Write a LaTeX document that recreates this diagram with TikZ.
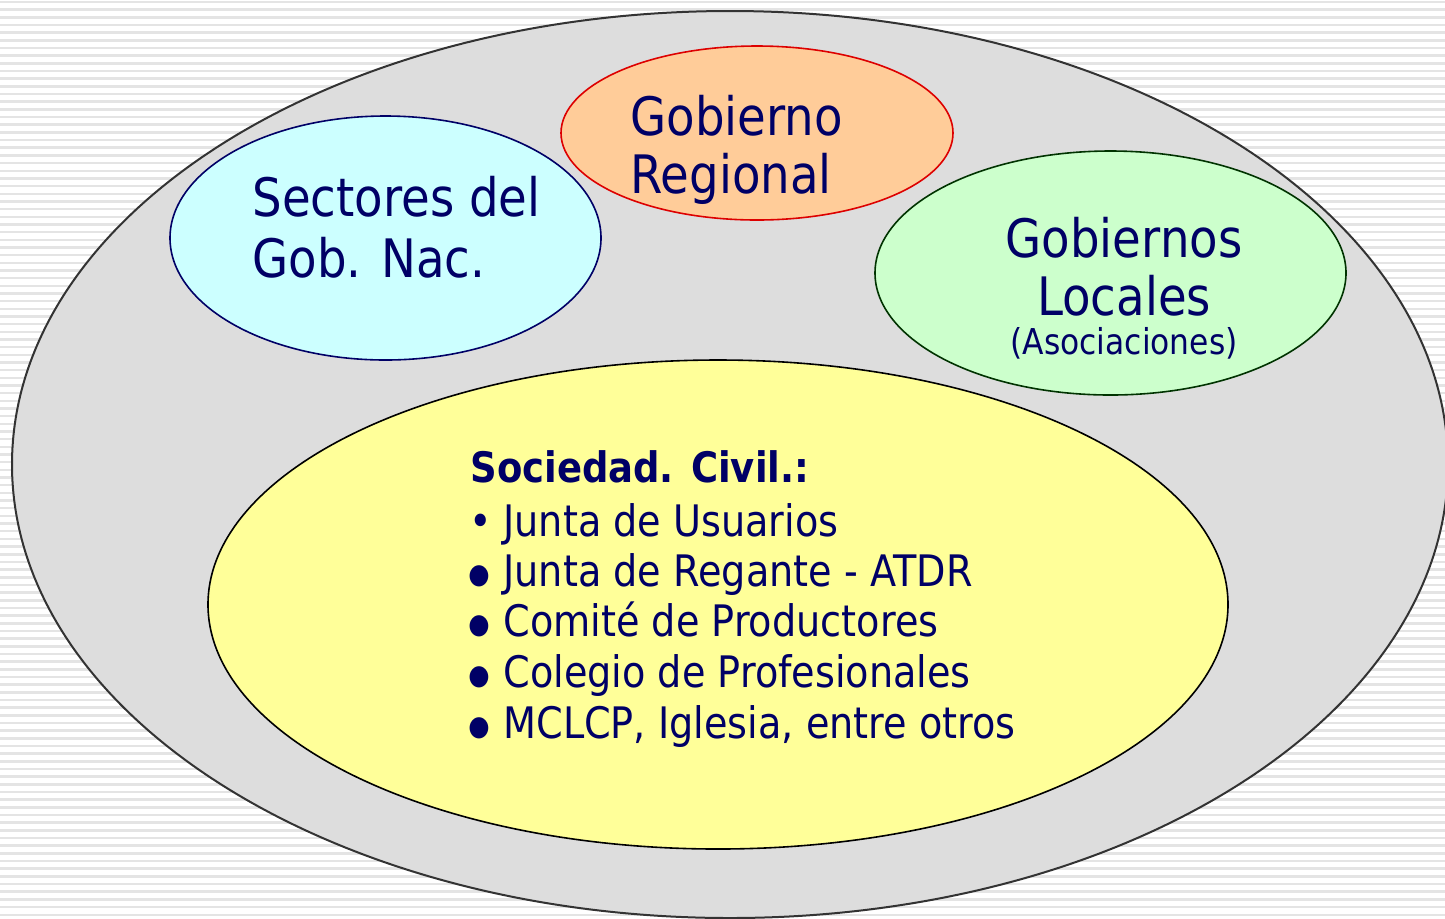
\documentclass[tikz,border=0pt]{standalone}
\usepackage{fontspec}
\setmainfont[FakeStretch=0.88]{DejaVu Sans}
\usepackage{graphicx}
\usetikzlibrary{shapes.geometric}
\definecolor{navytext}{HTML}{000066}
\definecolor{bggray}{HTML}{DDDDDD}
\definecolor{stripegray}{HTML}{E4E4E4}
\definecolor{outline}{HTML}{333333}
\definecolor{cyanfill}{HTML}{CCFFFF}
\definecolor{orangefill}{HTML}{FFCC99}
\definecolor{greenfill}{HTML}{CCFFCC}
\definecolor{greenline}{HTML}{003300}
\definecolor{yellowfill}{HTML}{FFFF99}
\definecolor{redline}{HTML}{DD0000}
\tikzstyle{zone} = [ellipse, inner sep=0pt, line width=0.8pt]
\tikzstyle{stripe} = [stripegray, line width=1.25pt]
\tikzstyle{bigtxt} = [text=navytext, inner sep=0pt, anchor=base west, font=\fontsize{26.5}{26.5}\selectfont]
\tikzstyle{midtxt} = [text=navytext, inner sep=0pt, anchor=base, font=\fontsize{26.5}{26.5}\selectfont]
\tikzstyle{smalltxt} = [text=navytext, inner sep=0pt, anchor=base, font=\fontsize{17.8}{17.8}\selectfont]
\tikzstyle{listtxt} = [text=navytext, inner sep=0pt, anchor=base west, font=\fontsize{21.7}{21.7}\selectfont]
\newcommand{\smallbul}{\makebox[16.5pt][l]{\hspace{-0.5pt}•}}
\newcommand{\bigbul}{\makebox[16.5pt][l]{\hspace{-1pt}\raisebox{1.2pt}{\scalebox{0.64}{●}}}}

\begin{document}
\begin{tikzpicture}[x=0.5pt, y=-0.5pt]
  \useasboundingbox (0,0) rectangle (1445,918);
  \clip (0,0) rectangle (1445,918);
  % fondo rayado
  \foreach \k in {0,...,119}
    \draw [stripe] (0,{2+7.67*\k}) -- (1445,{2+7.67*\k});

  % elipses
  \node [zone, draw=outline, fill=bggray, line width=1pt, minimum width=718pt, minimum height=453.5pt] (marco) at (730,464.5) {};
  \node [zone, draw=navytext, fill=cyanfill, minimum width=215.5pt, minimum height=122pt] (sectores) at (385.5,238) {};
  \node [zone, draw=redline, fill=orangefill, minimum width=196pt, minimum height=87pt] (regional) at (757,133) {};
  \node [zone, draw=greenline, fill=greenfill, minimum width=235.5pt, minimum height=122pt] (locales) at (1110.5,273) {};
  \node [zone, draw=black, fill=yellowfill, minimum width=510pt, minimum height=244.5pt] (sociedad) at (718,604.5) {};

  % textos
  \node [bigtxt] (sect1) at (252,216) {Sectores del};
  \node [bigtxt] (sect2) at (252,277) {Gob. Nac.};
  \node [bigtxt] (reg1) at (630,135) {Gobierno};
  \node [bigtxt] (reg2) at (630,193) {Regional};
  \node [midtxt] (loc1) at (1124,257) {Gobiernos};
  \node [midtxt] (loc2) at (1124,315) {Locales};
  \node [smalltxt] (loc3) at (1124,354) {(Asociaciones)};
  \node [listtxt, font=\fontsize{21}{21}\selectfont\bfseries] (soc0) at (470,482) {Sociedad. Civil.:};
  \node [listtxt] (soc1) at (470,536) {\smallbul Junta de Usuarios};
  \node [listtxt] (soc2) at (470,586) {\bigbul Junta de Regante - ATDR};
  \node [listtxt] (soc3) at (470,636) {\bigbul Comité de Productores};
  \node [listtxt] (soc4) at (470,687) {\bigbul Colegio de Profesionales};
  \node [listtxt] (soc5) at (470,738) {\bigbul MCLCP, Iglesia, entre otros};
\end{tikzpicture}
\end{document}
